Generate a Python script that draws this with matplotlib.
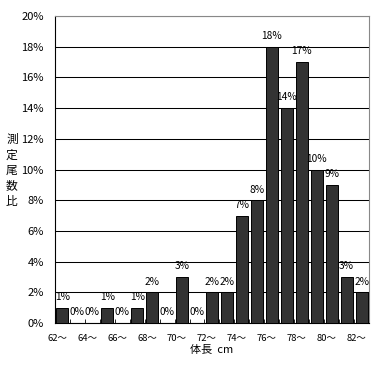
import numpy as np
import matplotlib
matplotlib.use("Agg")
import matplotlib.pyplot as plt
import matplotlib.transforms as mtransforms
from matplotlib.ticker import FixedLocator, PercentFormatter

plt.rcParams['font.family'] = ['Noto Sans CJK JP', 'DejaVu Sans']

# body length classes (cm) and share of measured fish (%)
lengths = list(range(62, 83))
shares = [1, 0, 0, 1, 0, 1, 2, 0, 3, 0, 2, 2, 7, 8, 18, 14, 17, 10, 9, 3, 2]
tick_labels = [f'{v}〜' for v in range(62, 83, 2)]

BAR = '#333333'
FS = 8

fig = plt.figure(figsize=(3.84, 3.65), dpi=100)
ax = fig.add_axes([0.143, 0.115, 0.818, 0.841])

x = np.arange(len(lengths))
ax.bar(x, shares, width=0.8, color=BAR, edgecolor='black', linewidth=0.7, zorder=3)
for xi, v in zip(x, shares):
    ax.annotate(f'{v}%', (xi, v), xytext=(0, 7.7), textcoords='offset points',
                ha='center', va='center', fontsize=7.3, zorder=4)

ax.set_xlim(-0.5, len(lengths) - 0.5)
ax.set_ylim(0, 20)
ax.set_yticks(range(0, 21, 2))
ax.yaxis.set_major_formatter(PercentFormatter(decimals=0))
ax.yaxis.grid(True, color='black', linewidth=0.75, zorder=0)
ax.tick_params(axis='y', length=0, labelsize=FS, pad=8)

ax.set_xticks(np.arange(0, len(lengths), 2))
ax.set_xticklabels(tick_labels, fontsize=6.8)
ax.tick_params(axis='x', length=0, pad=8)
shift = mtransforms.ScaledTranslation(-5 / 100, 0, fig.dpi_scale_trans)
for lab in ax.get_xticklabels():
    lab.set_transform(lab.get_transform() + shift)
ax.xaxis.set_minor_locator(FixedLocator(np.arange(0.5, len(lengths) - 1, 1)))
ax.tick_params(axis='x', which='minor', direction='in', length=3, color='black')

for s in ['top', 'right']:
    ax.spines[s].set_color('#888888')
for s in ['left', 'bottom']:
    ax.spines[s].set_color('black')

fig.text(0.552, 0.042, '体長  cm', fontsize=FS, ha='center', va='center')
fig.text(0.031, 0.533, '測\n定\n尾\n数\n比', fontsize=8.5, ha='center', va='center',
         linespacing=1.25)

fig.savefig('out.png', dpi=100)
